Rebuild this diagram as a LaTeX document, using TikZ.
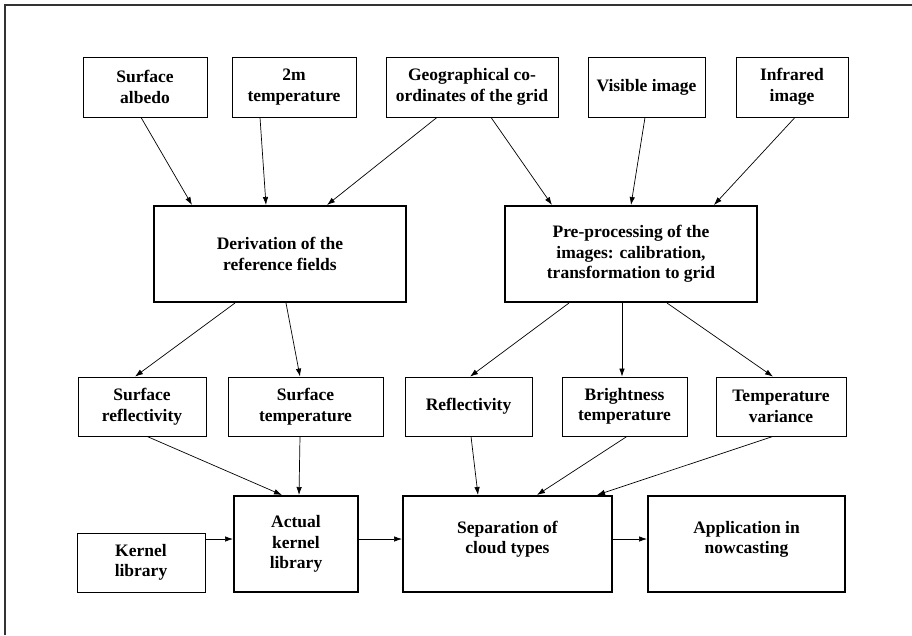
\documentclass[tikz,border=0pt]{standalone}
\usepackage{fontspec}
\setmainfont{Liberation Serif}
\usetikzlibrary{arrows.meta}
\tikzset{
  box/.style={draw=black, line width=0.8pt, align=center, inner sep=0pt,
    font=\bfseries\fontsize{17.5}{20.5}\selectfont},
  bigbox/.style={box, line width=2pt},
  arr/.style={draw=black, line width=0.7pt, -{Latex[length=8pt,width=5.5pt]}},
  frame/.style={draw=black!80, line width=1.3pt}
}
\begin{document}
\begin{tikzpicture}[x=1pt,y=-1pt]
\useasboundingbox (0,0) rectangle (912,635);
\coordinate (f1) at (5,635);
\coordinate (f2) at (5,5);
\coordinate (f3) at (912,5);
\draw[frame] (f1) -- (f2) -- (f3);
% row 1
\node[box, minimum width=124, minimum height=60] (sa) at (145,87) {Surface\\albedo};
\node[box, minimum width=124, minimum height=60] (tm) at (294,87) {2m\\temperature};
\node[box, minimum width=172, minimum height=60] (geo) at (472,87) {Geographical co-\\ordinates of the grid};
\node[box, minimum width=117, minimum height=60] (vis) at (646.5,87) {Visible image};
\node[box, minimum width=112, minimum height=60] (ir) at (792,87) {Infrared\\image};
% row 2
\node[bigbox, minimum width=252, minimum height=96] (der) at (280,254) {Derivation of the\\reference fields};
\node[bigbox, minimum width=252, minimum height=96] (pre) at (631,254) {Pre-processing of the\\images: calibration,\\transformation to grid};
% row 3
\node[box, minimum width=128, minimum height=59] (srefl) at (142,406.5) {Surface\\reflectivity};
\node[box, minimum width=155, minimum height=59] (stemp) at (305.5,406.5) {Surface\\temperature};
\node[box, minimum width=127, minimum height=59] (refl) at (468.5,406.5) {Reflectivity};
\node[box, minimum width=125, minimum height=59] (bt) at (624.5,406.5) {Brightness\\temperature};
\node[box, minimum width=130, minimum height=59] (tv) at (781,406.5) {Temperature\\variance};
% row 4
\node[box, minimum width=128, minimum height=59] (kl) at (141,562.5) {Kernel\\library};
\node[bigbox, minimum width=124, minimum height=96] (akl) at (296,544) {Actual\\kernel\\library};
\node[bigbox, minimum width=209, minimum height=96] (sep) at (507.5,544) {Separation of\\cloud types\\[-7pt]};
\node[bigbox, minimum width=197, minimum height=96] (app) at (746.5,544) {Application in\\nowcasting\\[-7pt]};
% arrows row1 -> row2
\draw[arr] ([xshift=-4pt]sa.south) -- ([xshift=-88pt]der.north);
\draw[arr] ([xshift=-34pt]tm.south) -- ([xshift=-14pt]der.north);
\draw[arr] ([xshift=-35pt]geo.south) -- ([xshift=47pt]der.north);
\draw[arr] ([xshift=19pt]geo.south) -- ([xshift=-79pt]pre.north);
\draw[arr] ([xshift=-1.5pt]vis.south) -- (pre.north);
\draw[arr] ([xshift=3pt]ir.south) -- ([xshift=83pt]pre.north);
% row2 -> row3
\draw[arr] ([xshift=-45pt]der.south) -- ([xshift=-7pt]srefl.north);
\draw[arr] ([xshift=6pt]der.south) -- ([xshift=-5.5pt]stemp.north);
\draw[arr] ([xshift=-62pt]pre.south) -- ([xshift=1.5pt]refl.north);
\draw[arr] ([xshift=-9pt]pre.south) -- ([xshift=-2.5pt]bt.north);
\draw[arr] ([xshift=36pt]pre.south) -- ([xshift=-8pt]tv.north);
% row3 -> row4
\draw[arr] ([xshift=5pt]srefl.south) -- ([xshift=-14pt]akl.north);
\draw[arr] ([xshift=-5.5pt]stemp.south) -- ([xshift=3pt]akl.north);
\draw[arr] ([xshift=2.5pt]refl.south) -- ([xshift=-29.5pt]sep.north);
\draw[arr] ([xshift=2.5pt]bt.south) -- ([xshift=29.5pt]sep.north);
\draw[arr] ([xshift=-8pt]tv.south) -- ([xshift=89.5pt]sep.north);
% horizontal
\draw[arr] ([yshift=23.5pt]kl.east) -- ([yshift=5pt]akl.west);
\draw[arr] ([yshift=5pt]akl.east) -- ([yshift=5pt]sep.west);
\draw[arr] ([yshift=5pt]sep.east) -- ([yshift=5pt]app.west);
\end{tikzpicture}
\end{document}
